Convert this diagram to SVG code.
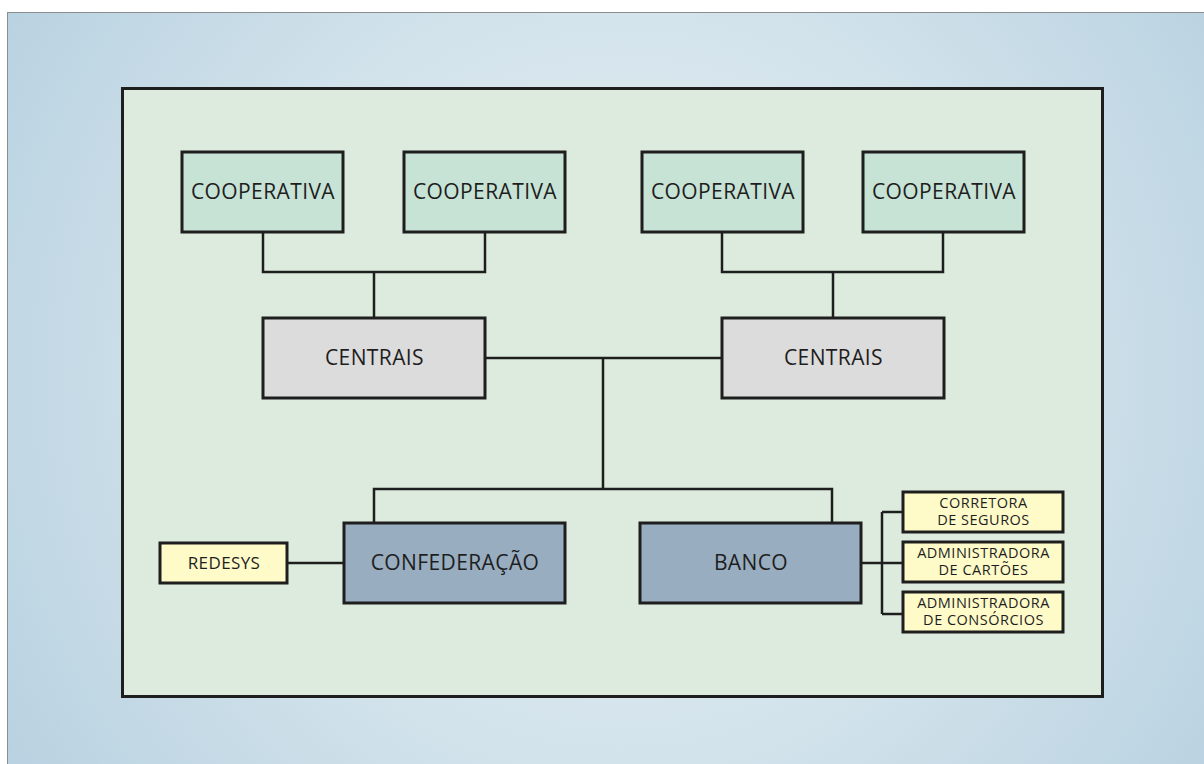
<svg xmlns="http://www.w3.org/2000/svg" width="1204" height="764" viewBox="0 0 1204 764">
<defs>
<radialGradient id="bg" cx="620" cy="380" r="720" gradientUnits="userSpaceOnUse">
<stop offset="0" stop-color="#e6eff3"/>
<stop offset="0.5" stop-color="#d4e4ec"/>
<stop offset="1" stop-color="#b9d2e1"/>
</radialGradient>
<style>
.box{stroke:#1e1e1e;stroke-width:3}
.coop{fill:#c7e3d5}
.cent{fill:#dcdcdc}
.main{fill:#98adbf}
.yel{fill:#fffbc9}
.t{font-family:"Open Sans","Noto Sans",sans-serif;fill:#1e1e1e;text-anchor:middle}
.big{font-size:21px;letter-spacing:0.4px}
.sm{font-size:14.5px;letter-spacing:0.5px}
.ln{stroke:#1e1e1e;stroke-width:2.5;fill:none}
</style>
</defs>
<rect x="7.5" y="12.5" width="1200" height="760" fill="url(#bg)" stroke="#8a8e90" stroke-width="1"/>
<rect x="122.5" y="88.5" width="980" height="608" fill="#dcebde" stroke="#1e1e1e" stroke-width="3"/>
<g id="connectors">
<path class="ln" d="M263 232V272H485V232M374 272V318"/>
<path class="ln" d="M722 232V272H943V232M833 272V318"/>
<path class="ln" d="M485 358H722M603 358V489M374 523V489H832V523"/>
<path class="ln" d="M287 563H344"/>
<path class="ln" d="M862 563H882M882 512V614M882 512H903M882 563H903M882 614H903"/>
</g>
<g id="coop1"><rect class="box coop" x="182" y="152" width="161" height="80"/><text class="t big" x="263" y="199">COOPERATIVA</text></g>
<g id="coop2"><rect class="box coop" x="404" y="152" width="161" height="80"/><text class="t big" x="485" y="199">COOPERATIVA</text></g>
<g id="coop3"><rect class="box coop" x="642" y="152" width="161" height="80"/><text class="t big" x="723" y="199">COOPERATIVA</text></g>
<g id="coop4"><rect class="box coop" x="863" y="152" width="161" height="80"/><text class="t big" x="944" y="199">COOPERATIVA</text></g>
<g id="centrais1"><rect class="box cent" x="263" y="318" width="222" height="80"/><text class="t big" x="374.5" y="365">CENTRAIS</text></g>
<g id="centrais2"><rect class="box cent" x="722" y="318" width="222" height="80"/><text class="t big" x="833.5" y="365">CENTRAIS</text></g>
<g id="confederacao"><rect class="box main" x="344" y="523" width="221" height="80"/><text class="t big" x="455" y="570">CONFEDERAÇÃO</text></g>
<g id="banco"><rect class="box main" x="640" y="523" width="221" height="80"/><text class="t big" x="751" y="570">BANCO</text></g>
<g id="redesys"><rect class="box yel" x="160" y="543" width="127" height="40"/><text class="t" x="224" y="569" style="font-size:17px;letter-spacing:0.4px">REDESYS</text></g>
<g id="corretora"><rect class="box yel" x="903" y="492" width="160" height="40"/><text class="t sm" x="983.5" y="508">CORRETORA</text><text class="t sm" x="983.5" y="525">DE SEGUROS</text></g>
<g id="cartoes"><rect class="box yel" x="903" y="542" width="160" height="40"/><text class="t sm" x="983.5" y="558">ADMINISTRADORA</text><text class="t sm" x="983.5" y="575">DE CARTÕES</text></g>
<g id="consorcios"><rect class="box yel" x="903" y="592" width="160" height="40"/><text class="t sm" x="983.5" y="608">ADMINISTRADORA</text><text class="t sm" x="983.5" y="625">DE CONSÓRCIOS</text></g>
</svg>
